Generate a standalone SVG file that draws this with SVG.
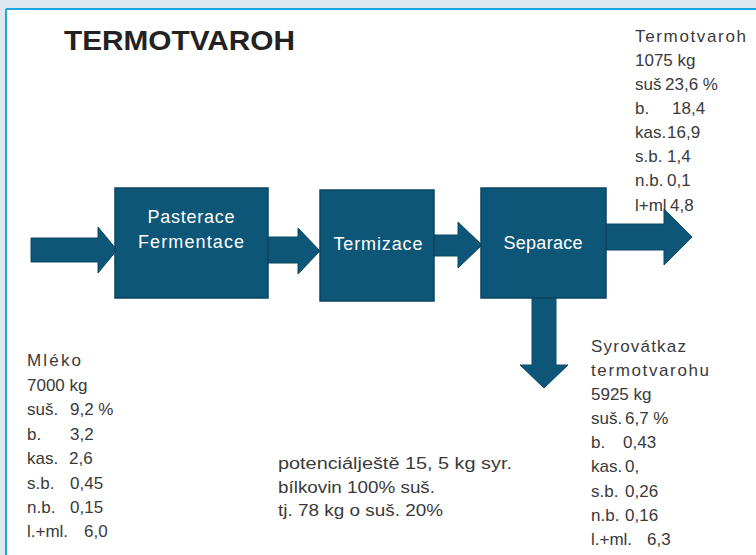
<svg xmlns="http://www.w3.org/2000/svg" width="756" height="555" viewBox="0 0 756 555">
<style>
.box{fill:#0d5677;stroke:#0a4560;stroke-width:1.5}
.arr{fill:#0d5677;stroke:#0a4a66;stroke-width:1}
.bt{font-family:"Liberation Sans",Arial,sans-serif;font-size:18px;fill:#ffffff;text-anchor:middle}
.t{font-family:"Liberation Sans",Arial,sans-serif;font-size:17px;fill:#3a3a3a}
.s{font-family:"Liberation Sans",Arial,sans-serif;font-size:16px;fill:#3a3a3a}
</style>
<rect x="0" y="0" width="756" height="555" fill="#dde8ef"/>
<rect x="7" y="9" width="749" height="546" fill="#ffffff"/>
<line x1="6" y1="9" x2="756" y2="9" stroke="#1ea5e0" stroke-width="2"/>
<line x1="6" y1="9" x2="6" y2="555" stroke="#1ea5e0" stroke-width="2"/>
<text x="64" y="50" font-family="Liberation Sans,Arial,sans-serif" font-size="28" font-weight="bold" fill="#222" textLength="231" lengthAdjust="spacingAndGlyphs">TERMOTVAROH</text>
<g id="connectors">
<path class="arr" d="M31,238 H98 V227 L117,250 L98,273 V262 H31 Z"/>
<path class="arr" d="M268,237 H298 V228 L320,251 L298,274 V263 H268 Z"/>
<path class="arr" d="M434,235 H458 V222 L482,245 L458,268 V256 H434 Z"/>
<path class="arr" d="M606,224 H664 V209 L692,237 L664,265 V250 H606 Z"/>
<path class="arr" d="M532,298 H556 V365 H568 L544,388 L520,365 H532 Z"/>
</g>
<g id="pasterace">
<rect class="box" x="115" y="188" width="153" height="110"/>
<text class="bt" x="191" y="223" textLength="87">Pasterace</text>
<text class="bt" x="191" y="248" textLength="106">Fermentace</text>
</g>
<g id="termizace">
<rect class="box" x="320" y="190" width="114" height="111"/>
<text class="bt" x="378" y="250" textLength="89">Termizace</text>
</g>
<g id="separace">
<rect class="box" x="481" y="188" width="125" height="110"/>
<text class="bt" x="543" y="249" textLength="79">Separace</text>
</g>
<g id="termotvaroh-out">
<text class="t" x="635" y="42" textLength="111">Termotvaroh</text>
<text class="t" x="635" y="66">1075 kg</text>
<text class="t" x="635" y="90">suš<tspan x="665">23,6 %</tspan></text>
<text class="t" x="635" y="114">b.<tspan x="672">18,4</tspan></text>
<text class="t" x="635" y="138">kas.<tspan x="667">16,9</tspan></text>
<text class="t" x="635" y="162">s.b.<tspan x="667">1,4</tspan></text>
<text class="t" x="635" y="186">n.b.<tspan x="667">0,1</tspan></text>
<text class="t" x="635" y="211">l+ml<tspan x="670">4,8</tspan></text>
</g>
<g id="mleko">
<text class="t" x="27" y="366" textLength="54">Mléko</text>
<text class="t" x="27" y="391">7000 kg</text>
<text class="t" x="27" y="415">suš.<tspan x="70">9,2 %</tspan></text>
<text class="t" x="27" y="440">b.<tspan x="70">3,2</tspan></text>
<text class="t" x="27" y="464">kas.<tspan x="69">2,6</tspan></text>
<text class="t" x="27" y="489">s.b.<tspan x="70">0,45</tspan></text>
<text class="t" x="27" y="513">n.b.<tspan x="70">0,15</tspan></text>
<text class="t" x="27" y="537">l.+ml.<tspan x="84">6,0</tspan></text>
</g>
<g id="syrovatka">
<text class="t" x="591" y="352" textLength="95">Syrovátkaz</text>
<text class="t" x="591" y="376" textLength="118">termotvarohu</text>
<text class="t" x="591" y="400">5925 kg</text>
<text class="t" x="591" y="424">suš.<tspan x="625">6,7 %</tspan></text>
<text class="t" x="591" y="448">b.<tspan x="623">0,43</tspan></text>
<text class="t" x="591" y="472">kas.<tspan x="625">0,</tspan></text>
<text class="t" x="591" y="497">s.b.<tspan x="625">0,26</tspan></text>
<text class="t" x="591" y="521">n.b.<tspan x="625">0,16</tspan></text>
<text class="t" x="591" y="545">l.+ml.<tspan x="647">6,3</tspan></text>
</g>
<g id="poznamka">
<text class="s" x="278" y="469" textLength="234" lengthAdjust="spacingAndGlyphs">potenciálještě  15, 5 kg syr.</text>
<text class="s" x="278" y="493" textLength="157" lengthAdjust="spacingAndGlyphs">bílkovin 100% suš.</text>
<text class="s" x="278" y="516" textLength="165" lengthAdjust="spacingAndGlyphs">tj.  78 kg o suš. 20%</text>
</g>
</svg>
